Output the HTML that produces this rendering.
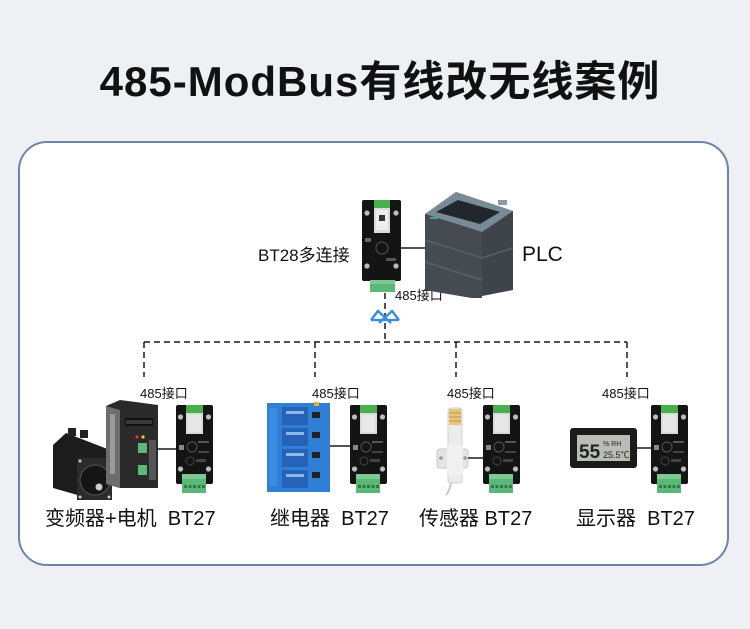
<!DOCTYPE html>
<html>
<head>
<meta charset="utf-8">
<style>
html,body{margin:0;padding:0;background:#eef0f4;}
body{width:750px;height:629px;overflow:hidden;position:relative;}
svg{position:absolute;left:0;top:0;}
text{font-family:"Liberation Sans","Noto Sans CJK SC",sans-serif;fill:#111;}
</style>
</head>
<body>
<svg width="750" height="629" viewBox="0 0 750 629" xmlns="http://www.w3.org/2000/svg">
  <defs>
    <g id="bt27">
      <rect x="0" y="0" width="37" height="79" rx="2" fill="#141414"/>
      <rect x="10" y="0" width="17" height="29" fill="#d9dcd9"/>
      <rect x="10" y="0" width="17" height="8" fill="#46b04f"/>
      <rect x="12" y="10" width="13" height="17" fill="#e8e8e8"/>
      <circle cx="4.5" cy="12" r="2.6" fill="#bbb"/>
      <circle cx="32.5" cy="12" r="2.6" fill="#bbb"/>
      <circle cx="4.5" cy="64" r="2.6" fill="#bbb"/>
      <circle cx="32.5" cy="64" r="2.6" fill="#bbb"/>
      <rect x="3" y="40" width="5" height="5" fill="#888"/>
      <circle cx="16" cy="42" r="5" fill="none" stroke="#555" stroke-width="1"/>
      <circle cx="14" cy="56" r="4" fill="none" stroke="#444" stroke-width="1"/>
      <rect x="22" y="36" width="11" height="2" fill="#555"/>
      <rect x="22" y="46" width="11" height="2" fill="#444"/>
      <rect x="20" y="54" width="10" height="3" fill="#444"/>
      <rect x="6" y="69" width="24" height="19" fill="#5cb878"/>
      <rect x="6" y="69" width="24" height="5" fill="#7cc994"/>
      <rect x="8" y="80" width="3" height="3" fill="#2f7a47"/>
      <rect x="12.5" y="80" width="3" height="3" fill="#2f7a47"/>
      <rect x="17" y="80" width="3" height="3" fill="#2f7a47"/>
      <rect x="21.5" y="80" width="3" height="3" fill="#2f7a47"/>
      <rect x="26" y="80" width="3" height="3" fill="#2f7a47"/>
    </g>
  </defs>

  <!-- Title -->
  <text x="380" y="96" text-anchor="middle" font-size="42" font-weight="bold" letter-spacing="1" style="fill:#111">485-ModBus有线改无线案例</text>

  <!-- Frame -->
  <rect x="19" y="142" width="709" height="423" rx="28" ry="28" fill="#ffffff" stroke="#6d85a9" stroke-width="2"/>

  <!-- Dashed bus -->
  <g stroke="#1a1a1a" stroke-width="1.5" stroke-dasharray="6 4" fill="none">
    <line x1="385" y1="293" x2="385" y2="342"/>
    <line x1="144" y1="342" x2="627" y2="342"/>
    <line x1="144" y1="342" x2="144" y2="377"/>
    <line x1="315" y1="342" x2="315" y2="377"/>
    <line x1="456" y1="342" x2="456" y2="377"/>
    <line x1="627" y1="342" x2="627" y2="377"/>
  </g>

  <!-- Bluetooth symbol -->
  <g stroke="#3a8de0" stroke-width="2.4" fill="none" stroke-linejoin="miter">
    <polyline points="371,320 378,311 391,323"/>
    <polyline points="399,320 392,311 379,323"/>
    <line x1="371" y1="320" x2="385" y2="320"/>
    <line x1="385" y1="320" x2="399" y2="320"/>
  </g>

  <!-- BT28 module -->
  <rect x="362" y="200" width="39" height="81" rx="2" fill="#141414"/>
  <rect x="374" y="200" width="16" height="33" fill="#dcdcdc"/>
  <rect x="374" y="200" width="16" height="8" fill="#46b04f"/>
  <rect x="376" y="210" width="12" height="20" fill="#eee"/>
  <rect x="379" y="215" width="6" height="6" fill="#333"/>
  <circle cx="367" cy="213" r="2.6" fill="#bbb"/>
  <circle cx="396" cy="213" r="2.6" fill="#bbb"/>
  <circle cx="367" cy="266" r="2.6" fill="#bbb"/>
  <circle cx="396" cy="266" r="2.6" fill="#bbb"/>
  <circle cx="382" cy="248" r="6" fill="none" stroke="#555"/>
  <rect x="365" y="238" width="6" height="4" fill="#666"/>
  <rect x="386" y="258" width="10" height="3" fill="#555"/>
  <rect x="370" y="280" width="25" height="12" fill="#5cb878"/>
  <rect x="370" y="280" width="25" height="4" fill="#7cc994"/>
  <text x="258" y="261" font-size="17">BT28多连接</text>
  <text x="395" y="300" font-size="13">485接口</text>

  <!-- link BT28 - PLC -->
  <line x1="401" y1="248" x2="427" y2="248" stroke="#1a1a1a" stroke-width="1.5"/>

  <!-- PLC -->
  <polygon points="425,214 456,192 513,211 513,290 472,298 425,290" fill="#3e444a"/>
  <polygon points="425,214 456,192 513,211 482,232" fill="#7a8b98"/>
  <polygon points="436,212 458,200 500,212 480,224" fill="#22272b"/>
  <polygon points="425,214 482,232 482,298 472,298 425,290" fill="#454b51"/>
  <line x1="425" y1="240" x2="482" y2="258" stroke="#5a6168" stroke-width="1.5"/>
  <line x1="425" y1="262" x2="482" y2="280" stroke="#5a6168" stroke-width="1.5"/>
  <line x1="482" y1="258" x2="513" y2="248" stroke="#5a6168" stroke-width="1.5"/>
  <rect x="430" y="217" width="8" height="2" fill="#3fa89a"/>
  <rect x="498" y="200" width="9" height="5" fill="#8d99a3"/>
  <text x="522" y="261" font-size="21">PLC</text>

  <!-- Group 1: drive + motor -->
  <text x="140" y="398" font-size="13">485接口</text>
  <polygon points="53,445 66,433 110,450 110,500 95,500 53,488" fill="#1c1c1c"/>
  <rect x="68" y="428" width="8" height="8" fill="#222"/>
  <rect x="80" y="430" width="8" height="8" fill="#222"/>
  <rect x="77" y="458" width="35" height="42" fill="#2b2b2b"/>
  <circle cx="95" cy="480" r="15" fill="#151515" stroke="#555"/>
  <circle cx="99" cy="487" r="3.5" fill="#ccc"/>
  <circle cx="80" cy="461" r="1.5" fill="#ccc"/>
  <circle cx="109" cy="461" r="1.5" fill="#ccc"/>
  <circle cx="80" cy="497" r="1.5" fill="#ccc"/>
  <circle cx="109" cy="497" r="1.5" fill="#ccc"/>
  <polygon points="106,406 120,400 158,405 158,488 120,488 106,484" fill="#2a2a2a"/>
  <polygon points="106,406 120,410 120,488 106,484" fill="#6d6d6d"/>
  <rect x="110" y="414" width="5" height="60" fill="#9a9a9a"/>
  <rect x="125" y="418" width="28" height="8" fill="#111"/>
  <rect x="126" y="420" width="26" height="4" fill="#3a3a3a"/>
  <circle cx="137" cy="437" r="1.6" fill="#e33"/>
  <circle cx="143" cy="437" r="1.6" fill="#ec3"/>
  <rect x="138" y="443" width="9" height="10" fill="#5cb878"/>
  <rect x="138" y="465" width="9" height="10" fill="#5cb878"/>
  <rect x="149" y="440" width="7" height="40" fill="#555"/>
  <line x1="158" y1="449" x2="176" y2="449" stroke="#1a1a1a" stroke-width="1.5"/>
  <use href="#bt27" x="176" y="405"/>
  <text x="45" y="525" font-size="20" xml:space="preserve">变频器+电机  BT27</text>

  <!-- Group 2: relay -->
  <text x="312" y="398" font-size="13">485接口</text>
  <rect x="267" y="403" width="63" height="89" fill="#2f7fd6"/>
  <rect x="282" y="407" width="26" height="18" fill="#2463b7"/>
  <rect x="282" y="428" width="26" height="18" fill="#2463b7"/>
  <rect x="282" y="449" width="26" height="18" fill="#2463b7"/>
  <rect x="282" y="470" width="26" height="18" fill="#2463b7"/>
  <rect x="286" y="411" width="18" height="3" fill="#8fb8ea"/>
  <rect x="286" y="432" width="18" height="3" fill="#8fb8ea"/>
  <rect x="286" y="453" width="18" height="3" fill="#8fb8ea"/>
  <rect x="286" y="474" width="18" height="3" fill="#8fb8ea"/>
  <rect x="269" y="408" width="8" height="78" fill="#3a8ce0"/>
  <rect x="312" y="412" width="8" height="6" fill="#222"/>
  <rect x="312" y="432" width="8" height="6" fill="#222"/>
  <rect x="312" y="452" width="8" height="6" fill="#222"/>
  <rect x="312" y="472" width="8" height="6" fill="#222"/>
  <rect x="314" y="402" width="5" height="4" fill="#e8b52a"/>
  <line x1="330" y1="446" x2="350" y2="446" stroke="#1a1a1a" stroke-width="1.5"/>
  <use href="#bt27" x="350" y="405"/>
  <text x="270" y="525" font-size="20" xml:space="preserve">继电器  BT27</text>

  <!-- Group 3: sensor -->
  <text x="447" y="398" font-size="13">485接口</text>
  <path d="M452,470 Q452,488 446,495" stroke="#c8c8c8" stroke-width="2" fill="none"/>
  <rect x="448" y="408" width="14" height="75" rx="3" fill="#ececec" stroke="#cfcfcf"/>
  <rect x="449" y="409" width="12" height="16" fill="#e6c77a"/>
  <line x1="449" y1="413" x2="461" y2="413" stroke="#b89a4f"/>
  <line x1="449" y1="417" x2="461" y2="417" stroke="#b89a4f"/>
  <line x1="449" y1="421" x2="461" y2="421" stroke="#b89a4f"/>
  <rect x="437" y="449" width="31" height="19" rx="3" fill="#e4e4e4" stroke="#c9c9c9"/>
  <rect x="447" y="445" width="16" height="30" fill="#f0f0f0"/>
  <circle cx="441" cy="458" r="1.8" fill="#999"/>
  <circle cx="465" cy="458" r="1.8" fill="#999"/>
  <line x1="468" y1="458" x2="483" y2="458" stroke="#1a1a1a" stroke-width="1.5"/>
  <use href="#bt27" x="483" y="405"/>
  <text x="419" y="525" font-size="20">传感器 BT27</text>

  <!-- Group 4: display -->
  <text x="602" y="398" font-size="13">485接口</text>
  <rect x="570" y="428" width="67" height="40" rx="3" fill="#1b1b1b"/>
  <rect x="577" y="435" width="53" height="26" fill="#b9bdb6"/>
  <text x="579" y="458" font-size="19" font-weight="bold" style="fill:#222">55</text>
  <text x="603" y="446" font-size="7" style="fill:#222">% RH</text>
  <text x="603" y="458" font-size="9" style="fill:#222">25.5℃</text>
  <line x1="637" y1="448" x2="651" y2="448" stroke="#1a1a1a" stroke-width="1.5"/>
  <use href="#bt27" x="651" y="405"/>
  <text x="576" y="525" font-size="20" xml:space="preserve">显示器  BT27</text>
</svg>
</body>
</html>
